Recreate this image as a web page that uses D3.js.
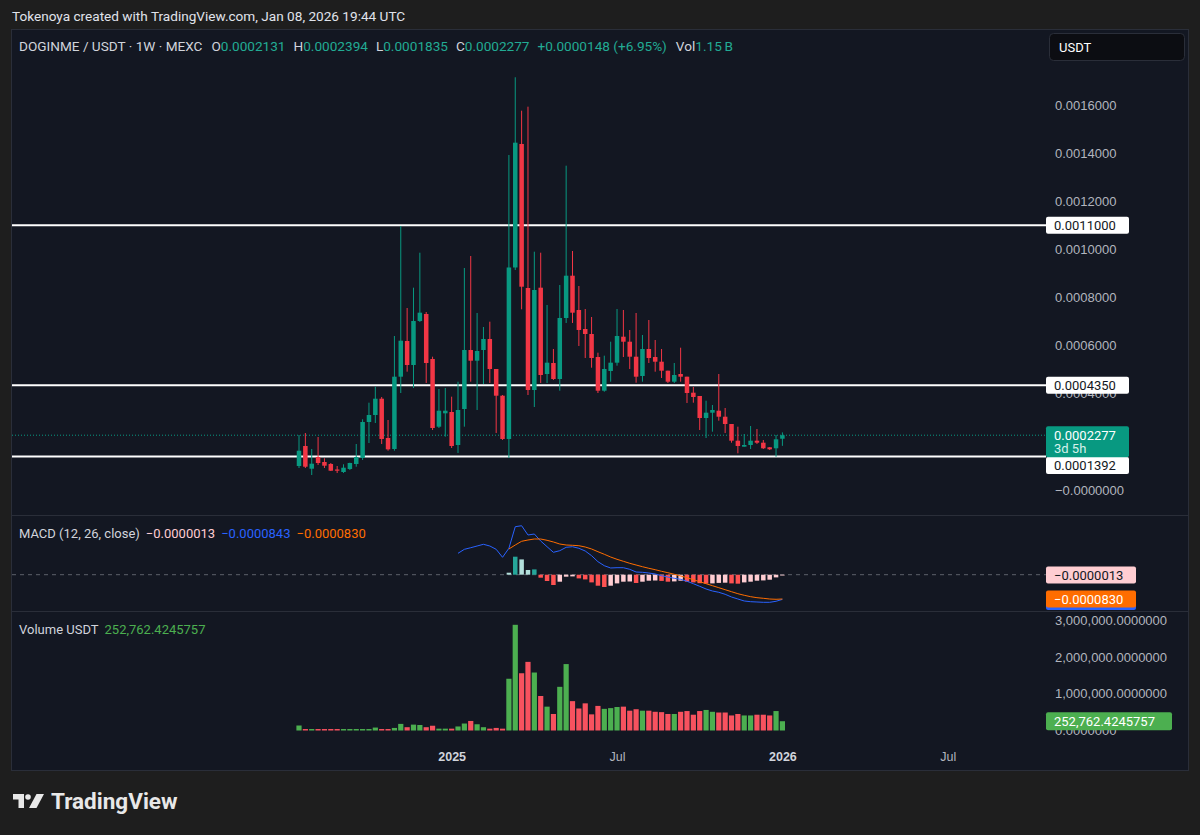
<!DOCTYPE html>
<html>
<head>
<meta charset="utf-8">
<script src="https://cdn.jsdelivr.net/npm/d3@7"></script>
<style>
  body { margin: 0; background: #1e1e1e; }
  svg { display: block; font-family: Roboto, "Noto Sans", sans-serif; }
</style>
</head>
<body>
<svg id="chart"></svg>
<script>
// weekly DOGINME/USDT candles
var open = [
  0.0000997, 0.0001829, 0.0000885, 0.0001371, 0.0001164, 0.0001081, 0.0000852, 0.0000748, 0.0000873, 0.0001081,
  0.0001330, 0.0002826, 0.0003117, 0.0003794, 0.0002161, 0.0001704, 0.0004709, 0.0006192, 0.0005195, 0.0007024,
  0.0007315, 0.0005444, 0.0002631, 0.0003187, 0.0003242, 0.0001870, 0.0003366, 0.0005818, 0.0005374, 0.0005818,
  0.0006276, 0.0005029, 0.0003919, 0.0002120, 0.0009247, 0.0014380, 0.0008395, 0.0004156, 0.0008408, 0.0004821,
  0.0005278, 0.0004613, 0.0007148, 0.0008906, 0.0007481, 0.0006691, 0.0006483, 0.0005527, 0.0004127, 0.0004946,
  0.0005291, 0.0006371, 0.0006163, 0.0005540, 0.0004738, 0.0005860, 0.0005527, 0.0005332, 0.0004958, 0.0004501,
  0.0004821, 0.0004709, 0.0004044, 0.0003907, 0.0002992, 0.0003213, 0.0003296, 0.0003046, 0.0002743, 0.0002049,
  0.0001800, 0.0001870, 0.0002049, 0.0001966, 0.0001775, 0.0001733, 0.0002131];

var high = [
  0.0002286, 0.0002369, 0.0001704, 0.0002203, 0.0001317, 0.0001122, 0.0000997, 0.0001068, 0.0001135, 0.0001912,
  0.0002938, 0.0003628, 0.0004293, 0.0003865, 0.0002909, 0.0006400, 0.0010972, 0.0007564, 0.0008408, 0.0009862,
  0.0007398, 0.0005540, 0.0004198, 0.0004239, 0.0003878, 0.0004501, 0.0009226, 0.0009725, 0.0007356, 0.0006774,
  0.0006995, 0.0005029, 0.0003948, 0.0013923, 0.0017152, 0.0015764, 0.0015930, 0.0009904, 0.0009862, 0.0007689,
  0.0005860, 0.0008520, 0.0013478, 0.0009933, 0.0008478, 0.0007522, 0.0007190, 0.0005706, 0.0005582, 0.0006163,
  0.0007522, 0.0007481, 0.0006650, 0.0007356, 0.0006442, 0.0007065, 0.0006234, 0.0005860, 0.0004958, 0.0005278,
  0.0005914, 0.0004709, 0.0004281, 0.0003907, 0.0003711, 0.0003533, 0.0004821, 0.0003408, 0.0002743, 0.0002631,
  0.0002327, 0.0002660, 0.0002535, 0.0002078, 0.0001787, 0.0002286, 0.0002394];

var low = [
  0.0000914, 0.0000914, 0.0000623, 0.0001039, 0.0000914, 0.0000790, 0.0000707, 0.0000707, 0.0000831, 0.0000968,
  0.0001247, 0.0001953, 0.0002785, 0.0001912, 0.0001633, 0.0001633, 0.0004031, 0.0004917, 0.0004239, 0.0006983,
  0.0004447, 0.0002494, 0.0002577, 0.0002215, 0.0001746, 0.0001538, 0.0002631, 0.0004501, 0.0003325, 0.0004405,
  0.0004447, 0.0002369, 0.0002078, 0.0001330, 0.0009143, 0.0007510, 0.0003948, 0.0003449, 0.0004447, 0.0004447,
  0.0004572, 0.0004127, 0.0006941, 0.0006941, 0.0005985, 0.0005486, 0.0005083, 0.0004031, 0.0004085, 0.0004501,
  0.0005166, 0.0005527, 0.0005029, 0.0004459, 0.0004501, 0.0005278, 0.0004917, 0.0004655, 0.0004447, 0.0004447,
  0.0004501, 0.0003616, 0.0003628, 0.0002494, 0.0002161, 0.0002423, 0.0002880, 0.0002369, 0.0001966, 0.0001525,
  0.0001800, 0.0001704, 0.0001912, 0.0001704, 0.0001662, 0.0001384, 0.0001835];

var close = [
  0.0001633, 0.0000968, 0.0001093, 0.0001122, 0.0001010, 0.0000802, 0.0000802, 0.0000927, 0.0001122, 0.0001371,
  0.0002826, 0.0003117, 0.0003794, 0.0002120, 0.0001690, 0.0004709, 0.0006205, 0.0005195, 0.0007024, 0.0007369,
  0.0005278, 0.0002577, 0.0003296, 0.0003296, 0.0001829, 0.0003325, 0.0005818, 0.0005374, 0.0005777, 0.0006276,
  0.0005029, 0.0003919, 0.0002120, 0.0009247, 0.0014434, 0.0008449, 0.0004156, 0.0008312, 0.0004779, 0.0005291,
  0.0004613, 0.0007148, 0.0008906, 0.0007369, 0.0006650, 0.0006483, 0.0005486, 0.0004127, 0.0005029, 0.0005291,
  0.0006400, 0.0006163, 0.0005540, 0.0004709, 0.0005860, 0.0005486, 0.0005332, 0.0004958, 0.0004501, 0.0004779,
  0.0004709, 0.0004031, 0.0003865, 0.0002992, 0.0003213, 0.0003325, 0.0003046, 0.0002743, 0.0002049, 0.0001829,
  0.0001870, 0.0002049, 0.0001966, 0.0001733, 0.0001691, 0.0002107, 0.0002277];

// volume in USDT
var volume = [
  136000, 40000, 40000, 40000, 40000, 40000, 40000, 40000, 40000, 40000,
  40000, 40000, 80000, 40000, 40000, 70000, 180000, 90000, 160000, 150000,
  90000, 130000, 50000, 50000, 50000, 110000, 190000, 260000, 170000, 90000,
  50000, 70000, 50000, 1410000, 2880000, 1560000, 1870000, 1580000, 940000, 650000,
  450000, 1190000, 1810000, 800000, 600000, 740000, 440000, 670000, 590000, 610000,
  640000, 650000, 540000, 580000, 540000, 540000, 510000, 500000, 450000, 450000,
  510000, 530000, 430000, 530000, 560000, 510000, 490000, 490000, 410000, 450000,
  410000, 410000, 430000, 430000, 410000, 530000, 252762.4245757];

// MACD (12, 26, close) - the line starts at week 25, signal and histogram at week 33
var macdStart = 25;
var macdLine = [
  7.31e-5, 8.67e-5, 9.22e-5, 9.80e-5, 1.038e-4, 9.80e-5, 8.67e-5, 5.94e-5, 9.02e-5, 1.639e-4,
  1.673e-4, 1.356e-4, 1.390e-4, 1.151e-4, 9.56e-5, 7.65e-5, 8.20e-5, 9.36e-5, 9.56e-5, 9.02e-5,
  8.09e-5, 6.49e-5, 4.44e-5, 3.07e-5, 2.29e-5, 2.39e-5, 2.39e-5, 1.84e-5, 9.2e-6, 8.2e-6,
  5.8e-6, 2.4e-6, -3.4e-6, -7.9e-6, -1.23e-5, -1.57e-5, -2.25e-5, -3.07e-5, -3.96e-5, -4.88e-5,
  -5.57e-5, -6.01e-5, -6.69e-5, -7.62e-5, -8.30e-5, -8.98e-5, -9.22e-5, -9.32e-5, -9.43e-5, -9.43e-5,
  -9.08e-5, -8.43e-5];

var signalStart = 33;
var signalLine = [
  8.78e-5, 1.014e-4, 1.141e-4, 1.185e-4, 1.219e-4, 1.219e-4, 1.175e-4, 1.117e-4, 1.048e-4, 1.014e-4,
  1.004e-4, 9.90e-5, 9.46e-5, 8.78e-5, 7.85e-5, 6.97e-5, 6.04e-5, 5.26e-5, 4.58e-5, 3.89e-5,
  3.31e-5, 2.73e-5, 2.19e-5, 1.71e-5, 1.16e-5, 6.8e-6, 1.4e-6, -4.4e-6, -1.02e-5, -1.71e-5,
  -2.39e-5, -3.07e-5, -3.76e-5, -4.44e-5, -5.12e-5, -5.81e-5, -6.49e-5, -7.03e-5, -7.51e-5, -7.85e-5,
  -8.06e-5, -8.30e-5, -8.40e-5, -8.30e-5];

var histogram = [
  6.8e-6, 6.15e-5, 5.22e-5, 1.61e-5, 1.81e-5, -1.02e-5, -2.15e-5, -3.52e-5, -2.39e-5, -6.8e-6,
  -5.8e-6, -1.26e-5, -1.61e-5, -2.63e-5, -3.76e-5, -4.20e-5, -3.76e-5, -2.97e-5, -2.39e-5, -2.32e-5,
  -2.83e-5, -2.39e-5, -2.05e-5, -1.98e-5, -2.12e-5, -2.39e-5, -2.29e-5, -2.05e-5, -2.39e-5, -2.63e-5,
  -2.90e-5, -3.04e-5, -2.97e-5, -2.80e-5, -2.73e-5, -2.97e-5, -3.07e-5, -2.63e-5, -2.39e-5, -2.05e-5,
  -1.95e-5, -1.71e-5, -9.2e-6, -1.3e-6];

// horizontal levels drawn on the chart
var levels = [0.0011, 0.000435, 0.0001392];
var levelLabels = ["0.0011000", "0.0004350", "0.0001392"];

var priceTicks = [0, 0.0004, 0.0006, 0.0008, 0.0010, 0.0012, 0.0014, 0.0016];
var priceTickLabels = ["\u22120.0000000", "0.0004000", "0.0006000", "0.0008000", "0.0010000", "0.0012000", "0.0014000", "0.0016000"];

var volTicks = [0, 1000000, 2000000, 3000000];

var timeTicks = ["2025-01-06", "2025-07-07", "2026-01-05", "2026-07-06"];
var timeTickLabels = ["2025", "Jul", "2026", "Jul"];

var W = 1200, H = 835;
var green = "#089981", red = "#f23645";
var textCol = "#d1d4dc", axisCol = "#b2b5be";

var dates = d3.utcMonday.range(new Date(Date.UTC(2024, 6, 22)), new Date(Date.UTC(2026, 0, 6)));
var bars = dates.map(function (d, i) {
  return { date: d, o: open[i], h: high[i], l: low[i], c: close[i], v: volume[i], up: close[i] >= open[i] };
});

var svg = d3.select("#chart")
  .attr("width", W)
  .attr("height", H);

svg.append("rect")
  .attr("width", W).attr("height", H)
  .attr("fill", "#1e1e1e");

svg.append("text")
  .attr("x", 12).attr("y", 21)
  .attr("fill", "#e0e3eb")
  .style("font-size", "13.6px")
  .text("Tokenoya created with TradingView.com, Jan 08, 2026 19:44 UTC");

// chart frame
svg.append("rect")
  .attr("x", 11.5).attr("y", 29.5)
  .attr("width", 1177).attr("height", 741)
  .attr("fill", "#131722")
  .attr("stroke", "#2a2e39");

// scales
var x = d3.scaleUtc()
  .domain([dates[0], dates[dates.length - 1]])
  .range([299, 782.4]);
var y = d3.scaleLinear().domain([0, 0.0016]).range([490, 105]);
var yMacd = d3.scaleLinear().domain([0, -0.000083]).range([574.7, 599]);
var yVol = d3.scaleLinear().domain([0, 3000000]).range([730.5, 620.4]);

var axisX = 1046;
var bodyW = 4.5;

// pane separators
[515.5, 611.5].forEach(function (sy) {
  svg.append("line")
    .attr("x1", 12).attr("x2", 1188)
    .attr("y1", sy).attr("y2", sy)
    .attr("stroke", "#2a2e39");
});

// ---- price pane ----
var priceAxis = svg.append("g")
  .attr("transform", "translate(" + axisX + ",0)")
  .call(d3.axisRight(y).tickValues(priceTicks).tickSize(0).tickPadding(9)
    .tickFormat(function (d, i) { return priceTickLabels[i]; }));
priceAxis.select(".domain").remove();
priceAxis.selectAll("text").attr("fill", axisCol).style("font-size", "13px");

// level lines
svg.selectAll(".level")
  .data(levels)
  .enter().append("line")
  .attr("class", "level")
  .attr("x1", 12).attr("x2", axisX)
  .attr("y1", function (d) { return y(d); })
  .attr("y2", function (d) { return y(d); })
  .attr("stroke", "#ffffff")
  .attr("stroke-width", 2);

// last price dotted line
var last = bars[bars.length - 1];
svg.append("line")
  .attr("x1", 12).attr("x2", axisX)
  .attr("y1", y(last.c)).attr("y2", y(last.c))
  .attr("stroke", green)
  .attr("stroke-dasharray", "1,2");

var candle = svg.append("g").selectAll("g")
  .data(bars)
  .enter().append("g");

candle.append("line")
  .attr("x1", function (d) { return x(d.date); })
  .attr("x2", function (d) { return x(d.date); })
  .attr("y1", function (d) { return y(d.h); })
  .attr("y2", function (d) { return y(d.l); })
  .attr("stroke", function (d) { return d.up ? green : red; })
  .attr("stroke-width", 1);

candle.append("rect")
  .attr("x", function (d) { return x(d.date) - bodyW / 2; })
  .attr("width", bodyW)
  .attr("y", function (d) { return y(Math.max(d.o, d.c)); })
  .attr("height", function (d) { return Math.max(1, Math.abs(y(d.o) - y(d.c))); })
  .attr("fill", function (d) { return d.up ? green : red; });

// level labels on the price scale
levels.forEach(function (lv, i) {
  var cy = y(lv);
  if (i === 2) cy = y(lv) + 9; // pushed below the last price tag
  svg.append("rect")
    .attr("x", axisX).attr("y", cy - 8.5)
    .attr("width", 83).attr("height", 17)
    .attr("rx", 2)
    .attr("fill", "#ffffff");
  svg.append("text")
    .attr("x", axisX + 8).attr("y", cy + 4.5)
    .attr("fill", "#131722")
    .style("font-size", "13px")
    .text(levelLabels[i]);
});

// last price tag
svg.append("rect")
  .attr("x", axisX).attr("y", y(last.c) - 9)
  .attr("width", 83).attr("height", 31)
  .attr("rx", 2)
  .attr("fill", green);
svg.append("text")
  .attr("x", axisX + 8).attr("y", y(last.c) + 4.5)
  .attr("fill", "#ffffff")
  .style("font-size", "13px")
  .text(d3.format(".7f")(last.c));
svg.append("text")
  .attr("x", axisX + 8).attr("y", y(last.c) + 18)
  .attr("fill", "#d6f2ec")
  .style("font-size", "13px")
  .text("3d 5h");

// currency button
svg.append("rect")
  .attr("x", 1049.5).attr("y", 33.5)
  .attr("width", 135).attr("height", 27)
  .attr("rx", 4)
  .attr("fill", "#0c0d12")
  .attr("stroke", "#2a2e39");
svg.append("text")
  .attr("x", 1059).attr("y", 51.5)
  .attr("fill", "#ffffff")
  .style("font-size", "13px")
  .text("USDT");

// legend line
var legend = svg.append("text")
  .attr("x", 19).attr("y", 51)
  .attr("fill", textCol)
  .style("font-size", "13.6px");
legend.append("tspan").text("DOGINME / USDT \u00b7 1W \u00b7 MEXC");
var ohlc = [["O", last.o], ["H", last.h], ["L", last.l], ["C", last.c]];
ohlc.forEach(function (p, i) {
  legend.append("tspan").attr("dx", i === 0 ? 9 : 8).text(p[0]);
  legend.append("tspan").attr("fill", "#22ab94").text(d3.format(".7f")(p[1]));
});
legend.append("tspan").attr("dx", 8).attr("fill", "#22ab94").text("+0.0000148 (+6.95%)");
legend.append("tspan").attr("dx", 9).text("Vol");
legend.append("tspan").attr("fill", "#22ab94").text("1.15\u2009B");

// ---- MACD pane ----
svg.append("line")
  .attr("x1", 12).attr("x2", axisX)
  .attr("y1", yMacd(0)).attr("y2", yMacd(0))
  .attr("stroke", "#5d606b")
  .attr("stroke-dasharray", "4,4");

var histBars = histogram.map(function (v, i) {
  var prev = i > 0 ? histogram[i - 1] : null;
  var col;
  if (v >= 0) col = (prev !== null && v > prev) ? "#26a69a" : "#b2dfdb";
  else col = (prev !== null && v > prev) ? "#ffcdd2" : "#ff5252";
  return { date: dates[signalStart + i], v: v, col: col };
});

svg.append("g").selectAll("rect")
  .data(histBars)
  .enter().append("rect")
  .attr("x", function (d) { return x(d.date) - bodyW / 2; })
  .attr("width", bodyW)
  .attr("y", function (d) { return Math.min(yMacd(d.v), yMacd(0)); })
  .attr("height", function (d) { return Math.max(0.8, Math.abs(yMacd(d.v) - yMacd(0))); })
  .attr("fill", function (d) { return d.col; });

var lineMacd = d3.line()
  .x(function (d) { return x(d.date); })
  .y(function (d) { return yMacd(d.v); });

svg.append("path")
  .datum(macdLine.map(function (v, i) { return { date: dates[macdStart + i], v: v }; }))
  .attr("d", lineMacd)
  .attr("fill", "none")
  .attr("stroke", "#2962ff")
  .attr("stroke-width", 1);

svg.append("path")
  .datum(signalLine.map(function (v, i) { return { date: dates[signalStart + i], v: v }; }))
  .attr("d", lineMacd)
  .attr("fill", "none")
  .attr("stroke", "#ff6d00")
  .attr("stroke-width", 1);

var macdLegend = svg.append("text")
  .attr("x", 19).attr("y", 537.5)
  .attr("fill", textCol)
  .style("font-size", "13px");
macdLegend.append("tspan").text("MACD (12, 26, close)");
macdLegend.append("tspan").attr("dx", 6).attr("fill", "#ffcdd2").text("\u22120.0000013");
macdLegend.append("tspan").attr("dx", 6).attr("fill", "#2962ff").text("\u22120.0000843");
macdLegend.append("tspan").attr("dx", 6).attr("fill", "#ff6d00").text("\u22120.0000830");

// MACD scale tags
var lastHist = histogram[histogram.length - 1];
svg.append("rect")
  .attr("x", axisX).attr("y", yMacd(lastHist) - 8.5)
  .attr("width", 90).attr("height", 17).attr("rx", 2)
  .attr("fill", "#ffcdd2");
svg.append("text")
  .attr("x", axisX + 8).attr("y", yMacd(lastHist) + 4.5)
  .attr("fill", "#131722")
  .style("font-size", "13px")
  .text("\u22120.0000013");

var lastMacd = macdLine[macdLine.length - 1];
var lastSig = signalLine[signalLine.length - 1];
svg.append("rect")
  .attr("x", axisX).attr("y", yMacd(lastMacd) - 7.5)
  .attr("width", 90).attr("height", 18).attr("rx", 2)
  .attr("fill", "#2962ff");
svg.append("rect")
  .attr("x", axisX).attr("y", yMacd(lastSig) - 8.5)
  .attr("width", 90).attr("height", 17).attr("rx", 2)
  .attr("fill", "#ff6d00");
svg.append("text")
  .attr("x", axisX + 8).attr("y", yMacd(lastSig) + 4.5)
  .attr("fill", "#ffffff")
  .style("font-size", "13px")
  .text("\u22120.0000830");

// ---- volume pane ----
var volAxis = svg.append("g")
  .attr("transform", "translate(" + axisX + ",0)")
  .call(d3.axisRight(yVol).tickValues(volTicks).tickSize(0).tickPadding(9)
    .tickFormat(d3.format(",.7f")));
volAxis.select(".domain").remove();
volAxis.selectAll("text").attr("fill", axisCol).style("font-size", "13px");

svg.append("g").selectAll("rect")
  .data(bars)
  .enter().append("rect")
  .attr("x", function (d) { return x(d.date) - 2.6; })
  .attr("width", 5.2)
  .attr("y", function (d) { return yVol(d.v); })
  .attr("height", function (d) { return Math.max(1, yVol(0) - yVol(d.v)); })
  .attr("fill", function (d) { return d.up ? "#4caf50" : "#f7525f"; });

var volLegend = svg.append("text")
  .attr("x", 19).attr("y", 633.5)
  .attr("fill", textCol)
  .style("font-size", "13px");
volLegend.append("tspan").text("Volume USDT");
volLegend.append("tspan").attr("dx", 6).attr("fill", "#4caf50").text(d3.format(",.7f")(last.v));

svg.append("rect")
  .attr("x", axisX).attr("y", yVol(last.v) - 9)
  .attr("width", 126).attr("height", 18).attr("rx", 2)
  .attr("fill", "#4caf50");
svg.append("text")
  .attr("x", axisX + 8).attr("y", yVol(last.v) + 4.5)
  .attr("fill", "#ffffff")
  .style("font-size", "13px")
  .text(d3.format(",.7f")(last.v));

// ---- time axis ----
var timeAxis = svg.append("g")
  .attr("transform", "translate(0,748)")
  .call(d3.axisBottom(x)
    .tickValues(timeTicks.map(function (s) { return d3.utcParse("%Y-%m-%d")(s); }))
    .tickSize(0).tickPadding(4)
    .tickFormat(function (d, i) { return timeTickLabels[i]; }));
timeAxis.select(".domain").remove();
timeAxis.selectAll("text")
  .attr("fill", function (d, i) { return timeTickLabels[i].length === 4 ? textCol : axisCol; })
  .style("font-weight", function (d, i) { return timeTickLabels[i].length === 4 ? "bold" : "normal"; })
  .style("font-size", "12.5px");

// ---- TradingView logo ----
var logo = svg.append("g").attr("fill", "#e8e8e8");
logo.append("path").attr("d", "M13,794 H24 V808 H18.5 V799.5 H13 Z");
logo.append("circle").attr("cx", 28).attr("cy", 797).attr("r", 2.8);
logo.append("path").attr("d", "M29,808 L36.5,794 H44 L36.5,808 Z");
logo.append("text")
  .attr("x", 51).attr("y", 809)
  .style("font-size", "22.5px")
  .style("font-weight", "bold")
  .text("TradingView");
</script>
</body>
</html>
